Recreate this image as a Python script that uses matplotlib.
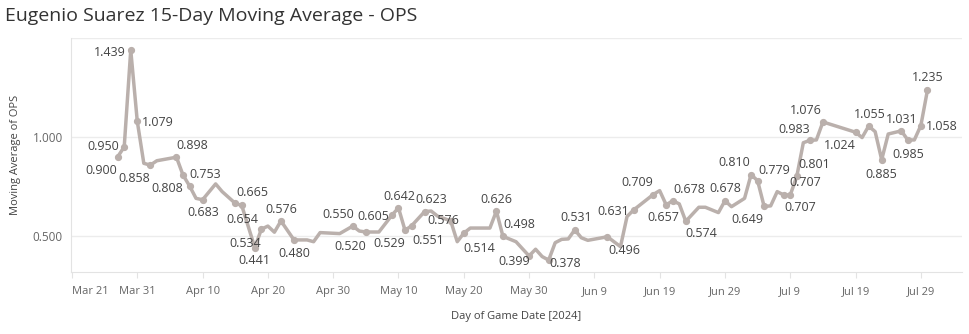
import numpy as np
import pandas as pd
import matplotlib
matplotlib.use("Agg")
import matplotlib.pyplot as plt
import matplotlib.dates as mdates

# 15-day moving average of OPS, one value per game date (2024)
game_dates = [
    "2024-03-28", "2024-03-29", "2024-03-30", "2024-03-31", "2024-04-01", "2024-04-02",
    "2024-04-03", "2024-04-06", "2024-04-07", "2024-04-08", "2024-04-09", "2024-04-10",
    "2024-04-12", "2024-04-13", "2024-04-15", "2024-04-16", "2024-04-18", "2024-04-19",
    "2024-04-20", "2024-04-21", "2024-04-22", "2024-04-24", "2024-04-26", "2024-04-27",
    "2024-04-28", "2024-05-01", "2024-05-03", "2024-05-04", "2024-05-05", "2024-05-07",
    "2024-05-09", "2024-05-10", "2024-05-11", "2024-05-12", "2024-05-14", "2024-05-15",
    "2024-05-16", "2024-05-18", "2024-05-19", "2024-05-20", "2024-05-21", "2024-05-24",
    "2024-05-25", "2024-05-26", "2024-05-28", "2024-05-30", "2024-05-31", "2024-06-01",
    "2024-06-02", "2024-06-03", "2024-06-04", "2024-06-05", "2024-06-06", "2024-06-07",
    "2024-06-08", "2024-06-11", "2024-06-13", "2024-06-14", "2024-06-15", "2024-06-18",
    "2024-06-19", "2024-06-20", "2024-06-21", "2024-06-22", "2024-06-23", "2024-06-25",
    "2024-06-26", "2024-06-28", "2024-06-29", "2024-06-30", "2024-07-02", "2024-07-03",
    "2024-07-04", "2024-07-05", "2024-07-06", "2024-07-07", "2024-07-08", "2024-07-09",
    "2024-07-10", "2024-07-11", "2024-07-12", "2024-07-13", "2024-07-14", "2024-07-19",
    "2024-07-20", "2024-07-21", "2024-07-22", "2024-07-23", "2024-07-24", "2024-07-26",
    "2024-07-27", "2024-07-28", "2024-07-29", "2024-07-30",
]
ops_avg = [
    0.900, 0.950, 1.439, 1.079, 0.867, 0.858,
    0.880, 0.898, 0.808, 0.753, 0.690, 0.683,
    0.763, 0.724, 0.665, 0.654, 0.441, 0.534,
    0.550, 0.519, 0.576, 0.480, 0.480, 0.471,
    0.517, 0.512, 0.550, 0.525, 0.520, 0.520,
    0.605, 0.642, 0.529, 0.551, 0.623, 0.626,
    0.600, 0.576, 0.471, 0.514, 0.540, 0.540,
    0.626, 0.498, 0.471, 0.399, 0.433, 0.396,
    0.378, 0.466, 0.483, 0.485, 0.531, 0.491,
    0.478, 0.496, 0.446, 0.598, 0.631, 0.709,
    0.729, 0.657, 0.678, 0.662, 0.574, 0.645,
    0.645, 0.618, 0.678, 0.648, 0.690, 0.810,
    0.779, 0.649, 0.652, 0.724, 0.707, 0.707,
    0.801, 0.971, 0.983, 0.985, 1.076, 1.024,
    0.997, 1.055, 1.027, 0.885, 1.015, 1.031,
    0.985, 0.985, 1.058, 1.235,
]

# x tick labels (every 10 days from Mar 21)
tick_labels = ["Mar 21", "Mar 31", "Apr 10", "Apr 20", "Apr 30", "May 10", "May 20",
               "May 30", "Jun 9", "Jun 19", "Jun 29", "Jul 9", "Jul 19", "Jul 29"]

# where each shown label sits relative to its mark (pixels)
label_offsets = {
    "2024-03-28": (-16, -14), "2024-03-29": (-21, 0), "2024-03-30": (-21, -2),
    "2024-03-31": (21, -1), "2024-04-02": (-16, -13), "2024-04-06": (16, 12),
    "2024-04-07": (-16, -14), "2024-04-08": (16, 11), "2024-04-10": (1, -13),
    "2024-04-15": (17, 11), "2024-04-16": (1, -14), "2024-04-18": (0, -13),
    "2024-04-19": (-16, -14), "2024-04-22": (0, 11), "2024-04-24": (0, -14),
    "2024-05-03": (-15, 12), "2024-05-05": (-16, -14), "2024-05-09": (-19, -1),
    "2024-05-10": (1, 11), "2024-05-11": (-16, -13), "2024-05-12": (17, -15),
    "2024-05-14": (7, 12), "2024-05-18": (-7, 0), "2024-05-20": (16, -15),
    "2024-05-25": (0, 12), "2024-05-26": (16, 12), "2024-05-30": (-15, -6),
    "2024-06-02": (17, -3), "2024-06-06": (1, 12), "2024-06-11": (17, -14),
    "2024-06-15": (-20, -1), "2024-06-18": (-16, 12), "2024-06-20": (-3, -13),
    "2024-06-21": (17, 11), "2024-06-23": (16, -12), "2024-06-29": (0, 12),
    "2024-07-03": (-17, 12), "2024-07-04": (17, 10), "2024-07-05": (-17, -13),
    "2024-07-08": (17, -13), "2024-07-09": (15, 12), "2024-07-10": (17, 12),
    "2024-07-12": (-16, 11), "2024-07-14": (-17, 11), "2024-07-19": (-16, -13),
    "2024-07-21": (1, 12), "2024-07-23": (0, -15), "2024-07-26": (0, 11),
    "2024-07-27": (0, -15), "2024-07-29": (21, -1), "2024-07-30": (0, 13),
}

LINE = "#bab0ac"
GRID = "#ececec"
plt.rcParams["font.family"] = ["Open Sans", "DejaVu Sans"]

dates = pd.to_datetime(game_dates)
start = pd.Timestamp("2024-03-21")

fig = plt.figure(figsize=(9.69, 3.34), dpi=100)
ax = fig.add_axes([71 / 969, 62 / 334, 891 / 969, 234 / 334])

ax.plot(dates, ops_avg, color=LINE, lw=2.5, solid_joinstyle="round", zorder=3)

for d, v, key in zip(dates, ops_avg, game_dates):
    if key in label_offsets:
        ax.plot(d, v, "o", color=LINE, ms=4.2, zorder=4)
        ax.annotate(f"{v:.3f}", (d, v), xytext=label_offsets[key],
                    textcoords="offset pixels", ha="center", va="center",
                    fontsize=9, color="#444444", zorder=5)

ax.set_ylim(0.318, 1.5)
ax.set_xlim(start - pd.Timedelta(days=0.15), start + pd.Timedelta(days=136.3))

ax.set_yticks([0.5, 1.0])
ax.set_yticklabels(["0.500", "1.000"])
for g in [0.5, 1.0, 1.5]:
    ax.axhline(g, color=GRID, lw=1, zorder=1)

ticks = [start + pd.Timedelta(days=10 * i) for i in range(len(tick_labels))]
ax.set_xticks(ticks)
ax.set_xticklabels(tick_labels)
ax.get_xticklabels()[0].set_horizontalalignment("left")

for s in ["top", "right"]:
    ax.spines[s].set_visible(False)
for s in ["left", "bottom"]:
    ax.spines[s].set_color("#e3e3e3")
ax.tick_params(axis="x", length=4, color="#e3e3e3", labelsize=8, labelcolor="#666666", pad=6)
ax.tick_params(axis="y", length=0, labelsize=8.5, labelcolor="#666666", pad=6)

ax.set_ylabel("Moving Average of OPS", fontsize=8, color="#444444", labelpad=8)
ax.set_xlabel("Day of Game Date [2024]", fontsize=8, color="#444444", labelpad=10)
fig.text(5 / 969, 1 - 16 / 334, "Eugenio Suarez 15-Day Moving Average - OPS",
         fontsize=14, color="#333333", ha="left", va="center")

fig.savefig("out.png", dpi=100)
